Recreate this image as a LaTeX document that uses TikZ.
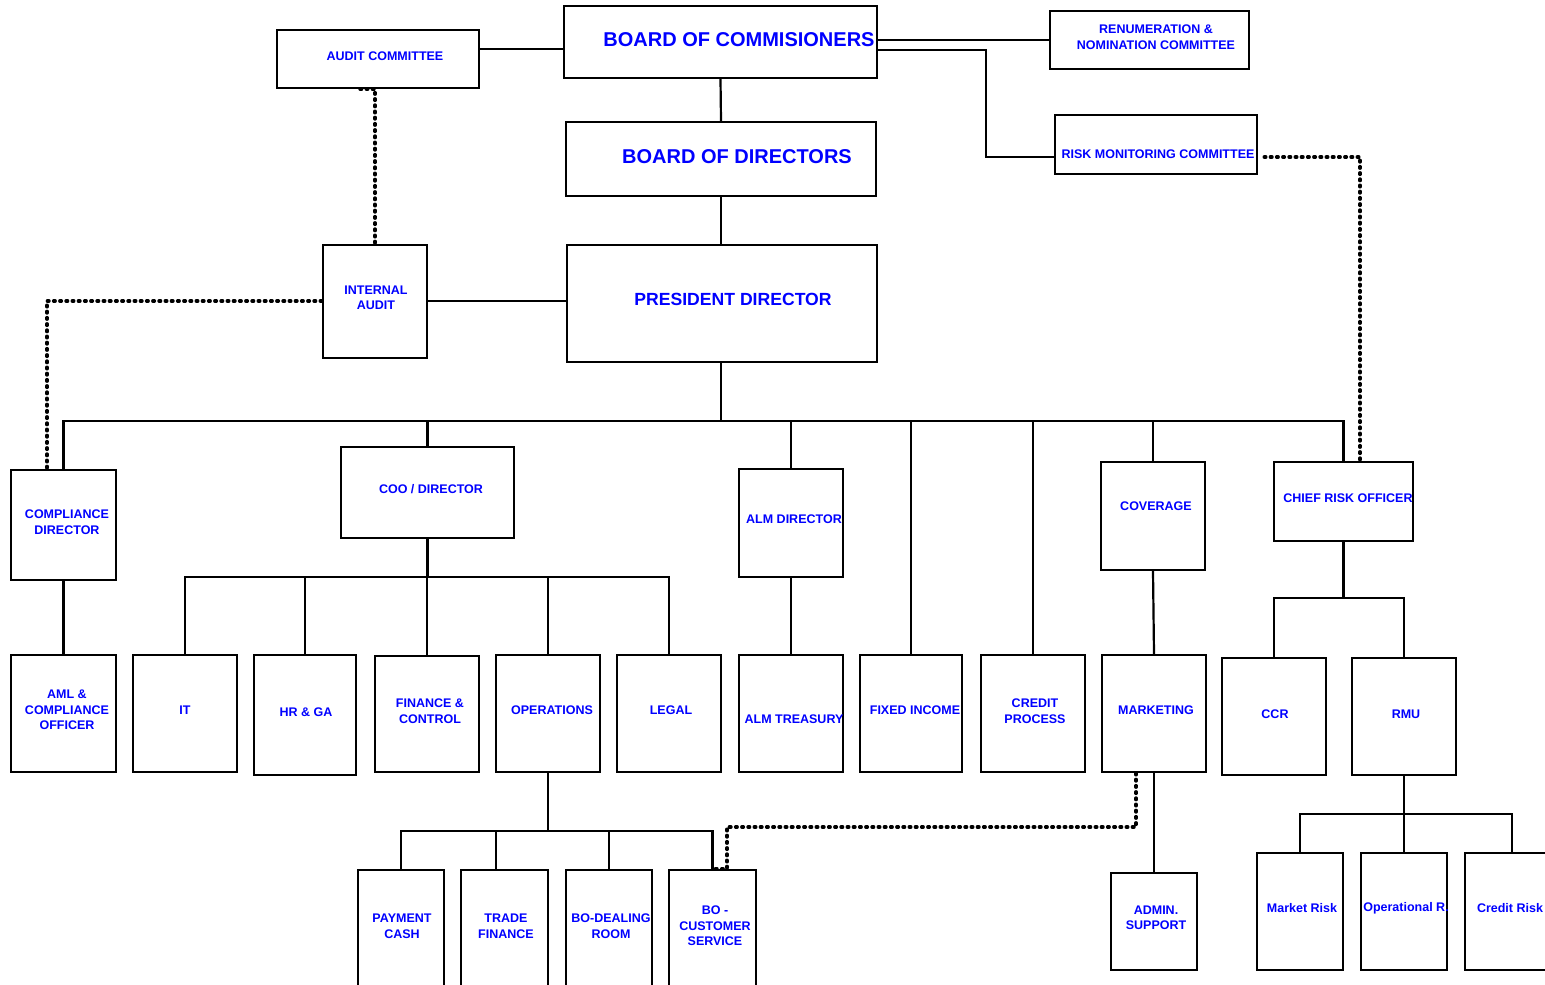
\documentclass[tikz,border=0pt]{standalone}
\usepackage{fontspec}
\setmainfont{Liberation Sans}
\begin{document}
\begin{tikzpicture}[x=1pt,y=-1pt,
  orgbox/.style={draw=black,line width=2.4pt,rectangle,inner sep=0pt},
  orgtxt/.style={text=blue,font=\bfseries\fontsize{12.5}{15.5}\selectfont,align=center,inner sep=0pt},
  bigtxt/.style={font=\bfseries\fontsize{20}{24}\selectfont},
  midtxt/.style={font=\bfseries\fontsize{17.6}{21}\selectfont},
  conn/.style={draw=black,line width=2.2pt},
  thinconn/.style={draw=black,line width=1.4pt},
  dotline/.style={draw=black,line width=3.4pt,line cap=round,dash pattern=on 1.6pt off 4.6pt}]
\newcommand{\orgbox}[9][]{%
  \node[orgbox,minimum width={#5-#3},minimum height={#6-#4}] (#2) at ({(#3+#5)/2},{(#4+#6)/2}) {};
  \node[orgtxt,#1] (#2t) at (#7,#8) {#9};}
\useasboundingbox (0,0) rectangle (1545,985);
\clip (0,0) rectangle (1545,985);
\fill[white] (0,0) rectangle (1545,985);
% level coordinates
\coordinate (yA) at (0,49);
\coordinate (yR) at (0,40);
\coordinate (kR) at (986,50);
\coordinate (kR2) at (986,157);
\coordinate (yIA) at (0,301);
\coordinate (d1) at (360,89);
\coordinate (L2) at (721,421);
\coordinate (L3) at (427,577);
\coordinate (L4) at (0,598);
\coordinate (L5) at (0,814);
\coordinate (L6) at (0,831);
\coordinate (dm) at (727,827);
% boxes
\orgbox{ac}{277}{30}{479}{88}{385}{56}{AUDIT COMMITTEE}
\orgbox[bigtxt]{boc}{564}{6}{877}{78}{739}{40}{BOARD OF COMMISIONERS}
\orgbox{ren}{1050}{11}{1249}{69}{1156}{37}{RENUMERATION \&\\NOMINATION COMMITTEE}
\orgbox[bigtxt]{bod}{566}{122}{876}{196}{737}{157}{BOARD OF DIRECTORS}
\orgbox{rmc}{1055}{115}{1257}{174}{1158}{154}{RISK MONITORING COMMITTEE}
\orgbox{ia}{323}{245}{427}{358}{376}{298}{INTERNAL\\AUDIT}
\orgbox[midtxt]{pd}{567}{245}{877}{362}{733}{299}{PRESIDENT DIRECTOR}
\orgbox{cd}{11}{470}{116}{580}{67}{522}{COMPLIANCE\\DIRECTOR}
\orgbox{coo}{341}{447}{514}{538}{431}{489}{COO / DIRECTOR}
\orgbox{almd}{739}{469}{843}{577}{794}{519}{ALM DIRECTOR}
\orgbox{cov}{1101}{462}{1205}{570}{1156}{506}{COVERAGE}
\orgbox{cro}{1274}{462}{1413}{541}{1348}{498}{CHIEF RISK OFFICER}
\orgbox{aml}{11}{655}{116}{772}{67}{710}{AML \&\\COMPLIANCE\\OFFICER}
\orgbox{it}{133}{655}{237}{772}{185}{710}{IT}
\orgbox{hr}{254}{655}{356}{775}{306}{712}{HR \& GA}
\orgbox{fin}{375}{656}{479}{772}{430}{711}{FINANCE \&\\CONTROL}
\orgbox{ops}{496}{655}{600}{772}{552}{710}{OPERATIONS}
\orgbox{legal}{617}{655}{721}{772}{671}{710}{LEGAL}
\orgbox{almt}{739}{655}{843}{772}{794}{719}{ALM TREASURY}
\orgbox{fi}{860}{655}{962}{772}{915}{710}{FIXED INCOME}
\orgbox{cp}{981}{655}{1085}{772}{1035}{711}{CREDIT\\PROCESS}
\orgbox{mkt}{1102}{655}{1206}{772}{1156}{710}{MARKETING}
\orgbox{ccr}{1222}{658}{1326}{775}{1275}{714}{CCR}
\orgbox{rmu}{1352}{658}{1456}{775}{1406}{714}{RMU}
\orgbox{adm}{1111}{873}{1197}{970}{1156}{918}{ADMIN.\\SUPPORT}
\orgbox{mr}{1257}{853}{1343}{970}{1302}{908}{Market Risk}
\orgbox{opr}{1361}{853}{1447}{970}{1406}{908}{Operational R.}
\orgbox{cr}{1465}{853}{1559}{970}{1510}{908}{Credit Risk}
\orgbox{pc}{358}{870}{444}{1000}{402}{926}{PAYMENT\\CASH}
\orgbox{tf}{461}{870}{548}{1000}{506}{926}{TRADE\\FINANCE}
\orgbox{bdr}{566}{870}{652}{1000}{611}{926}{BO-DEALING\\ROOM}
\orgbox{bocs}{669}{870}{756}{1000}{715}{926}{BO -\\CUSTOMER\\SERVICE}
% top connectors
\draw[thinconn] (ac.east |- yA) -- (boc.west |- yA);
\draw[thinconn] (boc.east |- yR) -- (ren.west |- yR);
\draw[thinconn] (boc.east |- kR) -- (kR) -- (kR2) -- (rmc.west |- kR2);
\draw[conn] (boc.south) -- (bod.north);
\draw[conn] (bod.south) -- (bod.south |- pd.north);
\draw[conn] (ia.east |- yIA) -- (pd.west |- yIA);
% dotted lines
\draw[dotline] (d1) -- (ia.north |- d1) -- (ia.north);
\draw[dotline] (ia.west |- yIA) -| ([xshift=-16.5]cd.north);
\draw[dotline] ([xshift=6]rmc.east |- kR2) -| ([xshift=16.5]cro.north);
\draw[dotline] ([xshift=-18]mkt.south) |- (dm) -- (dm |- bocs.north) -- ([xshift=1]bocs.north);
% level 2
\draw[conn] (pd.south -| L2) -- (L2);
\draw[conn] (cd.north) |- (L2) -| (cro.north);
\foreach \n in {coo,almd,fi,cp,cov} \draw[conn] (\n.north) -- (\n.north |- L2);
\draw[conn] (cd.south) -- (aml.north);
% COO group
\draw[conn] (coo.south) -- (coo.south |- L3);
\draw[conn] (it.north) -- (it.north |- L3) -- (legal.north |- L3) -- (legal.north);
\foreach \n in {hr,fin,ops} \draw[conn] (\n.north) -- (\n.north |- L3);
\draw[conn] (almd.south) -- (almt.north);
\draw[conn] (cov.south) -- (mkt.north);
\draw[conn] (mkt.south) -- (adm.north);
% CRO group
\draw[conn] (cro.south) -- (cro.south |- L4);
\draw[conn] (ccr.north) -- (ccr.north |- L4) -- (rmu.north |- L4) -- (rmu.north);
% RMU group
\draw[conn] (rmu.south) -- (rmu.south |- L5);
\draw[conn] (mr.north) -- (mr.north |- L5) -- (cr.north |- L5) -- (cr.north);
\draw[conn] (opr.north) -- (opr.north |- L5);
% Operations group
\draw[conn] (ops.south) -- (ops.south |- L6);
\draw[conn] (pc.north) -- (pc.north |- L6) -- (bocs.north |- L6) -- (bocs.north);
\draw[conn] ([xshift=-8.5]tf.north) -- ([xshift=-8.5]tf.north |- L6);
\draw[conn] (bdr.north) -- (bdr.north |- L6);
\end{tikzpicture}
\end{document}
